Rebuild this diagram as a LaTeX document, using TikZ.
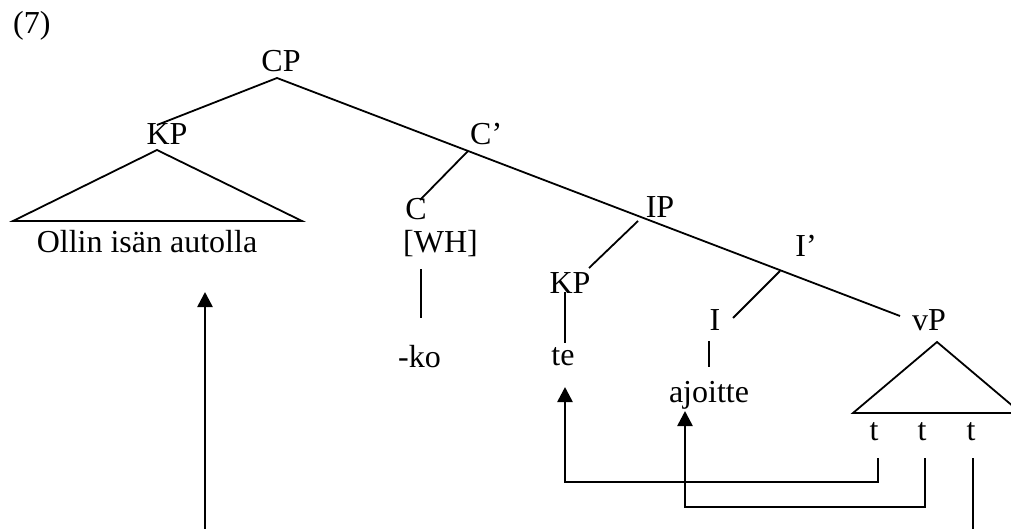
\documentclass[tikz,border=0pt]{standalone}
\usepackage{fontspec}
\setmainfont{Liberation Serif}
\usetikzlibrary{arrows.meta}
\tikzset{
  lbl/.style={inner sep=0pt, anchor=base, font=\fontsize{32}{38}\selectfont},
  lblw/.style={lbl, anchor=base west},
  branch/.style={line width=1.8pt},
  move/.style={line width=2.6pt, -{Triangle[length=15pt,width=15pt]}},
  trace/.style={line width=2.6pt}
}
\begin{document}
\begin{tikzpicture}[x=1pt,y=-1pt]
\useasboundingbox (0,0) rectangle (1011,529);
\clip (0,0) rectangle (1011,529);
% labels
\node[lblw] (ex) at (13,34) {(7)};
\node[lbl] (cp) at (281,72) {CP};
\node[lbl] (kp1) at (167,145) {KP};
\node[lblw] (cbar) at (470,145) {C’};
\node[lbl] (c) at (416,220) {C};
\node[lbl] (olli) at (147,253) {Ollin isän autolla};
\node[lblw] (wh) at (403,253) {[WH]};
\node[lblw] (ko) at (398,367) {-ko};
\node[lbl] (ip) at (660,218) {IP};
\node[lbl] (kp2) at (570,293) {KP};
\node[lbl] (te) at (563,365) {te};
\node[lbl] (ibar) at (806,256) {I’};
\node[lbl] (i) at (715,330) {I};
\node[lbl] (ajo) at (709,402) {ajoitte};
\node[lbl] (vp) at (929,330) {vP};
\node[lbl] (t1) at (874,440) {t};
\node[lbl] (t2) at (922,440) {t};
\node[lbl] (t3) at (971,440) {t};
% tree points
\coordinate (cpB) at (277,78);
\coordinate (kp1T) at (157,125);
\coordinate (vpT) at (900,316);
\coordinate (cbarJ) at (468,151);
\coordinate (cT) at (420,200);
\coordinate (ipJ) at (638,221);
\coordinate (kp2T) at (589,268);
\coordinate (ibarJ) at (780,271);
\coordinate (iT) at (733,318);
\coordinate (kp2B) at (565,292);
\coordinate (teT) at (565,343);
\coordinate (whB) at (421,269);
\coordinate (koT) at (421,318);
\coordinate (iB) at (709,341);
\coordinate (ajoT) at (709,367);
\coordinate (kpA) at (157,150);
\coordinate (kpL) at (13,221);
\coordinate (kpR) at (302,221);
\coordinate (vpA) at (937,342);
\coordinate (vpL) at (853,413);
\coordinate (vpR) at (1021,413);
% tree branches
\draw[branch] (kp1T) -- (cpB) -- (vpT);
\draw[branch] (cbarJ) -- (cT);
\draw[branch] (ipJ) -- (kp2T);
\draw[branch] (ibarJ) -- (iT);
\draw[branch] (kp2B) -- (teT);
\draw[branch] (whB) -- (koT);
\draw[branch] (iB) -- (ajoT);
\draw[branch] (kpL) -- (kpA) -- (kpR) -- cycle;
\draw[branch] (vpL) -- (vpA) -- (vpR) -- cycle;
% movement arrows
\coordinate (t1S) at (878,458);
\coordinate (t1C) at (878,482);
\coordinate (teC) at (565,482);
\coordinate (teTip) at (565,387);
\coordinate (t2S) at (925,458);
\coordinate (t2C) at (925,507);
\coordinate (ajoC) at (685,507);
\coordinate (ajoTip) at (685,411);
\coordinate (t3S) at (973,458);
\coordinate (t3E) at (973,540);
\coordinate (olS) at (205,540);
\coordinate (olTip) at (205,292);
\draw[move] (t1S) -- (t1C) -- (teC) -- (teTip);
\draw[move] (t2S) -- (t2C) -- (ajoC) -- (ajoTip);
\draw[trace] (t3S) -- (t3E);
\draw[move] (olS) -- (olTip);
\end{tikzpicture}
\end{document}
